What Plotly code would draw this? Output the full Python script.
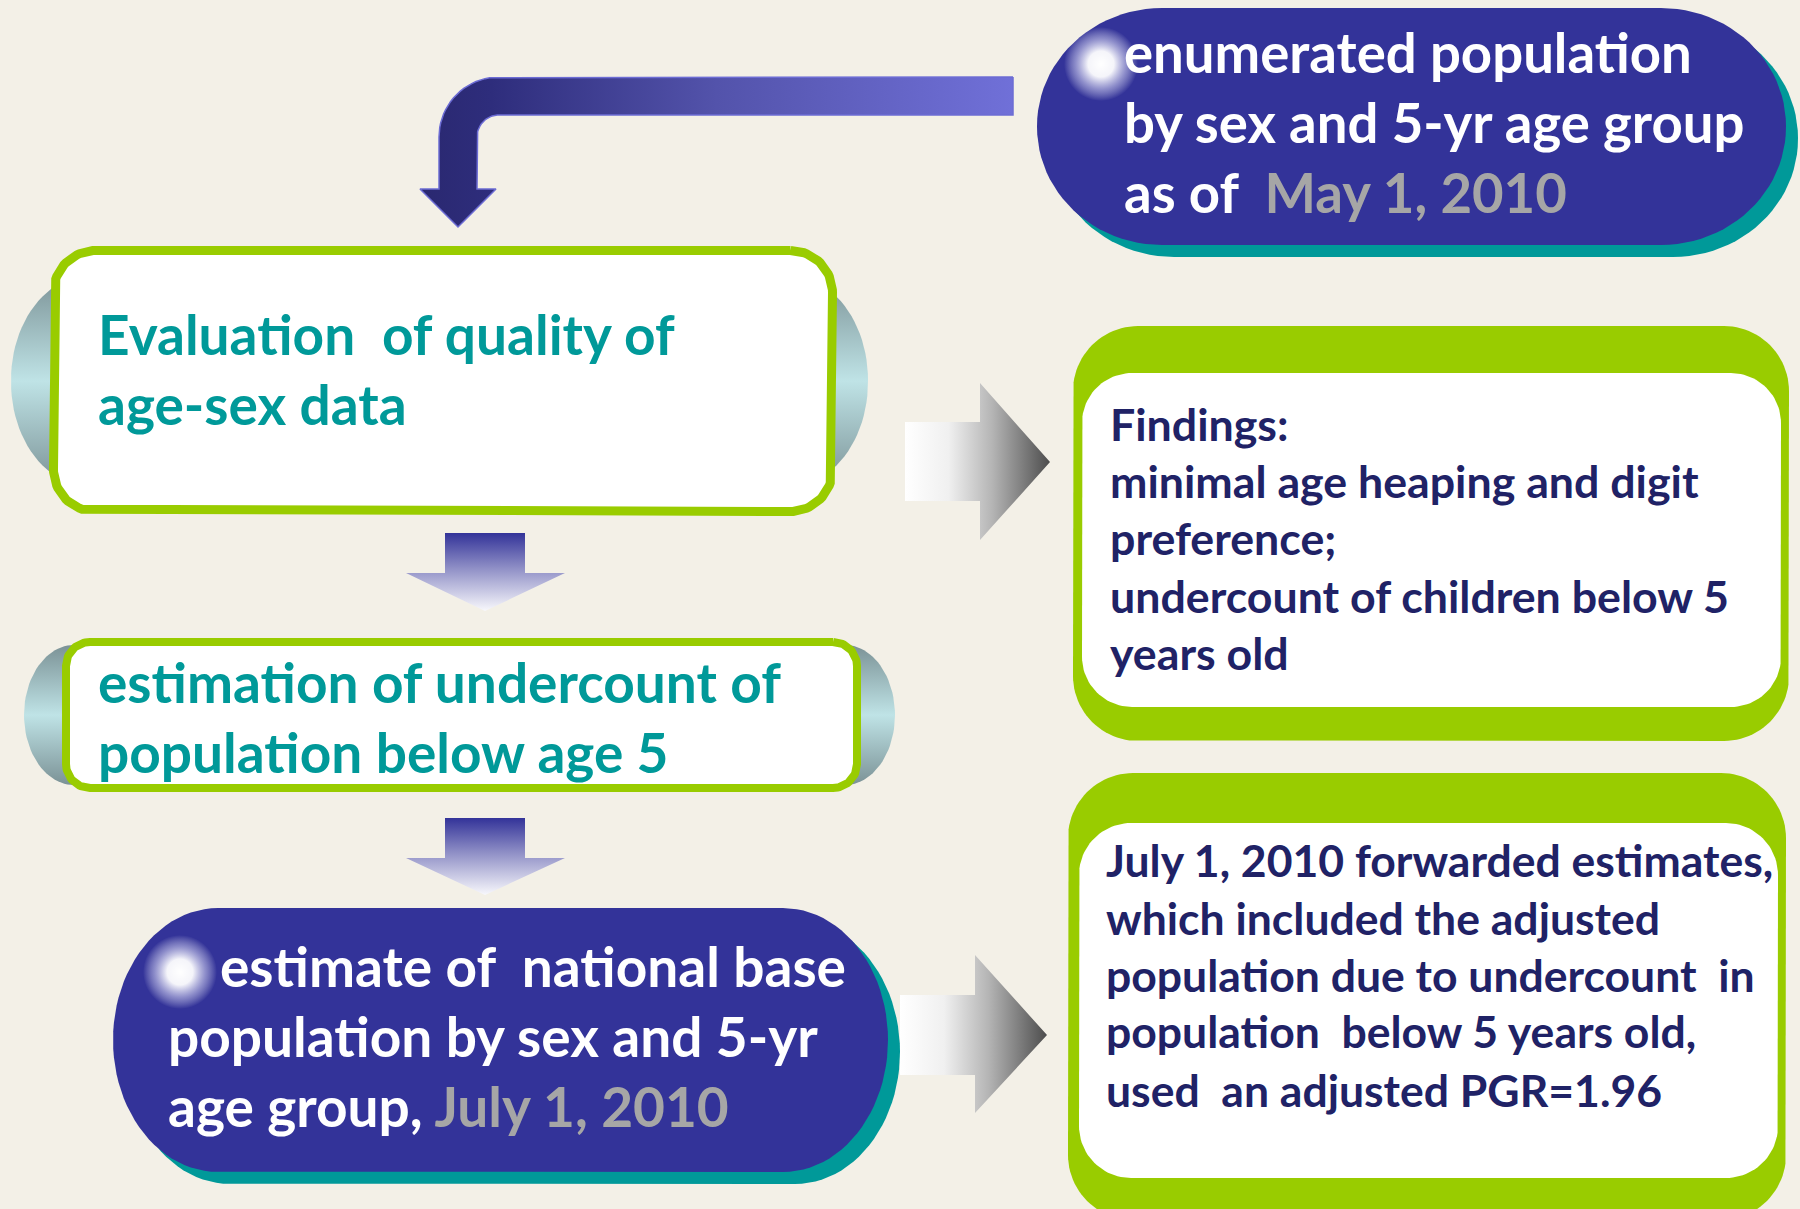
import math
import plotly.graph_objects as go

W, H = 1800, 1209
BG = "#F3F0E7"
NAVY = "#333399"
TEAL = "#009999"
GREEN = "#99CC00"
TEXT_NAVY = "#202266"
GREY = "#A6A6A6"
FONT = "Lato, 'Open Sans', sans-serif"

# ---- text content ----
top_pill_lines = ["enumerated population", "by sex and 5-yr age group",
                  "as of\u00a0\u00a0<span style='color:%s'>May 1, 2010</span>" % GREY]
box1_lines = ["Evaluation\u00a0\u00a0of quality of", "age-sex data"]
box2_lines = ["estimation of undercount of", "population below age 5"]
bottom_pill_lines = ["estimate of\u00a0\u00a0national base", "population by sex and 5-yr",
                     "age group, <span style='color:%s'>July 1, 2010</span>" % GREY]
findings_lines = ["Findings:", "minimal age heaping and digit", "preference;",
                  "undercount of children below 5", "years old"]
july_lines = ["July 1, 2010 forwarded estimates,", "which included the adjusted",
              "population due to undercount\u00a0\u00a0in", "population\u00a0\u00a0below 5 years old,",
              "used\u00a0\u00a0an adjusted PGR=1.96"]


def rrect(x0, y0, x1, y1, rx, ry=None, n=24):
    if ry is None:
        ry = rx
    xs, ys = [], []
    corners = [(x1 - rx, y0 + ry, -90, 0), (x1 - rx, y1 - ry, 0, 90),
               (x0 + rx, y1 - ry, 90, 180), (x0 + rx, y0 + ry, 180, 270)]
    for cx, cy, a0, a1 in corners:
        for i in range(n + 1):
            t = math.radians(a0 + (a1 - a0) * i / n)
            xs.append(cx + rx * math.cos(t))
            ys.append(cy + ry * math.sin(t))
    xs.append(xs[0]); ys.append(ys[0])
    return xs, ys


def circle(cx, cy, r, n=60):
    xs = [cx + r * math.cos(2 * math.pi * i / n) for i in range(n + 1)]
    ys = [cy + r * math.sin(2 * math.pi * i / n) for i in range(n + 1)]
    return xs, ys


fig = go.Figure()


def poly(xs, ys, fill=None, grad=None, lw=0, lc="rgba(0,0,0,0)"):
    kw = dict(x=xs, y=ys, mode="lines", fill="toself", hoverinfo="skip",
              showlegend=False, line=dict(width=lw, color=lc))
    if grad is not None:
        kw["fillgradient"] = grad
        kw["fillcolor"] = "rgba(0,0,0,0)"
    else:
        kw["fillcolor"] = fill
    fig.add_trace(go.Scatter(**kw))


# ---- curved arrow ----
cx, cy, ro, ri = 499, 137, 60, 22
xs, ys = [1013, cx], [77, 77]
for i in range(21):
    t = math.radians(270 - 90 * i / 20)
    xs.append(cx + ro * math.cos(t)); ys.append(cy + ro * math.sin(t))
xs += [439, 420, 458, 496, 477]
ys += [189, 189, 227, 189, 189]
for i in range(21):
    t = math.radians(180 + 90 * i / 20)
    xs.append(cx + ri * math.cos(t)); ys.append(cy + ri * math.sin(t))
xs += [1013, 1013]
ys += [115, 77]
poly(xs, ys, grad=dict(type="horizontal",
                       colorscale=[[0, "#2a2870"], [0.12, "#2e2d7c"], [0.5, "#5353ab"], [1, "#7070d8"]]),
     lw=1.5, lc="#6c6cd4")

# ---- top pill ----
glow_cs = [[0, "rgba(255,255,255,1)"], [0.35, "rgba(255,255,255,0.95)"],
           [0.7, "rgba(225,225,248,0.5)"], [1, "rgba(255,255,255,0)"]]
poly(*rrect(1049, 20, 1798, 257, 125, 118), fill=TEAL)
poly(*rrect(1037, 8, 1786, 245, 125, 118), fill=NAVY)
poly(*circle(1101, 64, 37), grad=dict(type="radial", colorscale=glow_cs))

# ---- box 1 ----
cyl = [[0, "#7b9296"], [0.5, "#bfe3e6"], [1, "#7b9296"]]
poly(*rrect(11, 275, 868, 487, 80, 105), grad=dict(type="vertical", colorscale=cyl))
poly(*rrect(53.5, 250.5, 832.5, 511.5, 42), fill="white", lw=9, lc=GREEN)

# ---- down arrows (navy on top fading to white at the tip) ----
down_cs = [[0, "#f8f8fc"], [0.55, "#8f8fc6"], [1, "#333399"]]
for top, base, tip in [(533, 573, 611), (818, 858, 895)]:
    poly([445, 525, 525, 565, 485, 406, 445, 445], [top, top, base, base, tip, base, base, top],
         grad=dict(type="vertical", colorscale=down_cs))

# ---- box 2 ----
poly(*rrect(24, 645, 895, 785, 50, 70), grad=dict(type="vertical", colorscale=cyl))
poly(*rrect(66, 642, 857, 788, 24), fill="white", lw=8, lc=GREEN)

# ---- bottom pill ----
poly(*rrect(125, 920, 900, 1184, 105, 132), fill=TEAL)
poly(*rrect(113, 908, 888, 1172, 105, 132), fill=NAVY)
poly(*circle(180, 972, 37), grad=dict(type="radial", colorscale=glow_cs))

# ---- right arrows ----
right_cs = [[0, "#ffffff"], [0.3, "#f0f0f0"], [0.6, "#b5b5b5"], [1, "#4d4d4d"]]
for x0, xb, xt, st, sb, ht, hb, yt in [(905, 980, 1050, 422, 501, 383, 540, 462),
                                       (900, 975, 1047, 995, 1075, 955, 1113, 1035)]:
    poly([x0, xb, xb, xt, xb, xb, x0, x0], [st, st, ht, yt, hb, sb, sb, st],
         grad=dict(type="horizontal", colorscale=right_cs))

# ---- findings box ----
poly(*rrect(1073, 326, 1789, 741, 65), fill=GREEN)
poly(*rrect(1082, 373, 1781, 707, 50), fill="white")

# ---- July box ----
poly(*rrect(1068, 773, 1786, 1220, 65), fill=GREEN)
poly(*rrect(1079, 823, 1778, 1178, 52), fill="white")

# ---- text ----
ann = []


def add_lines(lines, lefts, baselines, size, color):
    for i, (txt, b) in enumerate(zip(lines, baselines)):
        x = lefts[i] if isinstance(lefts, list) else lefts
        ann.append(dict(x=x, y=b - 0.387 * size, xref="x", yref="y", text=txt, showarrow=False,
                        xanchor="left", yanchor="middle", align="left",
                        font=dict(family=FONT, size=size, color=color, weight="bold")))


add_lines(top_pill_lines, 1122, [73, 143, 213], 54.5, "white")
add_lines(box1_lines, 96, [355, 425], 55, TEAL)
add_lines(box2_lines, 96, [703, 773], 55, TEAL)
add_lines(bottom_pill_lines, [218, 166, 166], [987, 1057, 1127], 55, "white")
add_lines(findings_lines, 1108, [441, 498, 555, 613, 670], 44.7, TEXT_NAVY)
add_lines(july_lines, 1104, [877, 935, 992, 1048, 1107], 44.5, TEXT_NAVY)

fig.update_layout(
    width=W, height=H, margin=dict(l=0, r=0, t=0, b=0),
    paper_bgcolor=BG, plot_bgcolor=BG,
    xaxis=dict(range=[0, W], visible=False, fixedrange=True),
    yaxis=dict(range=[H, 0], visible=False, fixedrange=True),
    annotations=ann,
)
fig.write_html("out.html", config={"displayModeBar": False},
               post_script="document.body.style.margin='0';document.body.style.overflow='hidden';")
